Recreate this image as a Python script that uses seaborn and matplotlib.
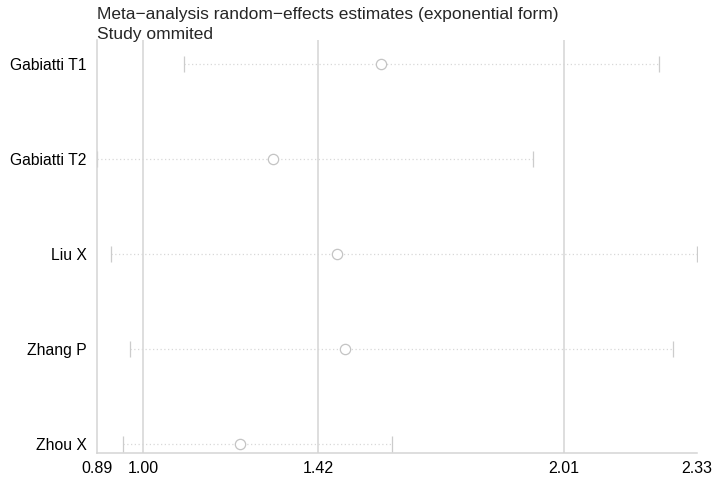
import pandas as pd
import matplotlib
matplotlib.use("Agg")
import matplotlib.pyplot as plt
import seaborn as sns

# Influence analysis values (study omitted -> pooled estimate)
studies = ["Gabiatti T1", "Gabiatti T2", "Liu X", "Zhang P", "Zhou X"]
estimate = [1.571, 1.312, 1.466, 1.485, 1.234]
lower = [1.099, 0.890, 0.923, 0.969, 0.953]
upper = [2.239, 1.937, 2.330, 2.272, 1.598]

# Overall pooled estimate and its CI, drawn as reference lines
ref_lines = [1.00, 1.42, 2.01]
xticks = [0.89, 1.00, 1.42, 2.01, 2.33]

df = pd.DataFrame({"study": studies, "est": estimate, "lo": lower, "hi": upper})
df["pos"] = range(len(df))

sns.set_style("white")
plt.rcParams["font.family"] = ["Liberation Sans", "DejaVu Sans"]

fig = plt.figure(figsize=(7.17, 4.88), dpi=100)
# axes box: x 97..697 px, y 40..453 px
ax = fig.add_axes([97 / 717, 35 / 488, 600 / 717, 413 / 488])

grey = "#d4d4d4"

for x in ref_lines:
    ax.axvline(x, color=grey, linewidth=1.1, zorder=1)

# Confidence intervals: dotted line with end caps
ax.hlines(df["pos"], df["lo"], df["hi"], colors="#d8d8d8", linestyles=(0, (1, 2)),
          linewidth=0.9, zorder=2)
ax.scatter(df["lo"], df["pos"], marker="|", s=120, color="#cccccc", linewidths=0.9, zorder=2)
ax.scatter(df["hi"], df["pos"], marker="|", s=120, color="#cccccc", linewidths=0.9, zorder=2)

sns.scatterplot(data=df, x="est", y="pos", ax=ax, marker="o", s=55,
                facecolor="white", edgecolor="#c4c4c4", linewidth=0.9, zorder=3)

ax.set_xlim(xticks[0], xticks[-1])
ax.set_ylim(len(df) - 1 + 0.09, -0.25)
ax.set_xticks(xticks)
ax.set_xticklabels([f"{v:.2f}" for v in xticks], fontsize=11.5)
ax.set_yticks(df["pos"])
ax.set_yticklabels(df["study"], fontsize=11.3)
ax.set_xlabel("")
ax.set_ylabel("")

for side in ["top", "right"]:
    ax.spines[side].set_visible(False)
for side in ["left", "bottom"]:
    ax.spines[side].set_color(grey)
    ax.spines[side].set_linewidth(1.1)

ax.tick_params(axis="x", length=5, width=1.0, color=grey, pad=1, labelcolor="black")
ax.tick_params(axis="y", length=0, pad=7.5, labelcolor="black")

fig.text(97 / 717, 1 - 15 / 488, "Meta\u2212analysis random\u2212effects estimates (exponential form)",
         fontsize=12.5, va="center", ha="left")
fig.text(97 / 717, 1 - 34 / 488, "Study ommited", fontsize=12.5, va="center", ha="left")

fig.savefig("out.png", dpi=100)
